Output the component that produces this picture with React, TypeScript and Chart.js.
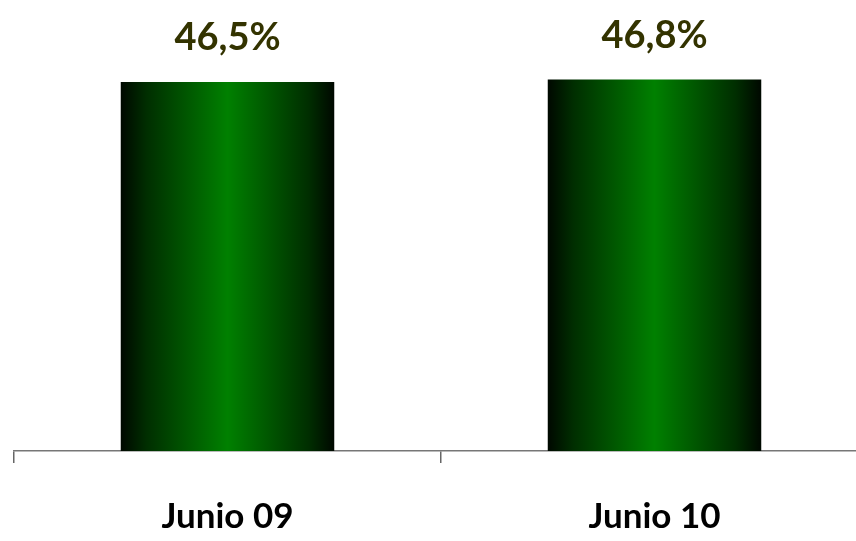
import React, { useEffect, useRef } from "react";
import { Chart, registerables } from "chart.js";

Chart.register(...registerables);

const categories = ["Junio 09", "Junio 10"];
const values = [46.5, 46.8];
const yMin = 0;
const yMax = 56.83;

const FONT = "Lato, 'Open Sans', sans-serif";

const fmt = (v: number) => v.toFixed(1).replace(".", ",") + "%";

const valueLabelPlugin = {
  id: "valueLabels",
  afterDatasetsDraw(chart: any) {
    const ctx = chart.ctx;
    const meta = chart.getDatasetMeta(0);
    ctx.save();
    ctx.font = `bold 38px ${FONT}`;
    ctx.fillStyle = "#333300";
    ctx.textAlign = "center";
    ctx.textBaseline = "alphabetic";
    meta.data.forEach((el: any, i: number) => {
      ctx.fillText(fmt(values[i]), el.x, el.y - 32);
    });
    ctx.restore();
  },
};

export default function App() {
  const ref = useRef<HTMLCanvasElement>(null);
  useEffect(() => {
    if (!ref.current) return;
    const chart = new Chart(ref.current, {
      type: "bar",
      data: {
        labels: categories,
        datasets: [
          {
            data: values,
            barPercentage: 1,
            categoryPercentage: 0.5,
            borderWidth: 0,
            backgroundColor: (c: any) => {
              const chartObj = c.chart;
              const xs = chartObj.scales && chartObj.scales.x;
              if (!xs || c.dataIndex === undefined) return "#007f00";
              const cx = xs.getPixelForValue(c.dataIndex);
              const w = (xs.width / categories.length) * 0.5;
              if (!isFinite(cx) || !isFinite(w) || w <= 0) return "#007f00";
              const g = chartObj.ctx.createLinearGradient(cx - w / 2, 0, cx + w / 2, 0);
              g.addColorStop(0, "#000800");
              g.addColorStop(0.12, "#002e00");
              g.addColorStop(0.5, "#008000");
              g.addColorStop(0.88, "#002e00");
              g.addColorStop(1, "#000800");
              return g;
            },
          },
        ],
      },
      options: {
        responsive: false,
        animation: false,
        layout: { padding: { left: 14, right: 14, top: 0, bottom: 0 } },
        plugins: {
          legend: { display: false },
          tooltip: { enabled: false },
        },
        scales: {
          x: {
            grid: {
              display: true,
              drawOnChartArea: false,
              drawTicks: true,
              tickLength: 12,
              color: "#666666",
              lineWidth: 1.5,
              offset: true,
            },
            border: { display: true, color: "#777777", width: 1.5 },
            ticks: {
              color: "#000000",
              font: { family: FONT, size: 35, weight: "bold" },
              padding: 33,
            },
            afterFit: (s: any) => {
              s.height = 90;
            },
          },
          y: {
            display: false,
            min: yMin,
            max: yMax,
          },
        },
      },
      plugins: [valueLabelPlugin],
    });
    return () => chart.destroy();
  }, []);
  return (
    <div
      style={{
        position: "fixed",
        left: 0,
        top: 0,
        width: 856,
        height: 541,
        overflow: "hidden",
        background: "#ffffff",
      }}
    >
      <canvas ref={ref} width={882} height={541} style={{ display: "block" }} />
    </div>
  );
}
